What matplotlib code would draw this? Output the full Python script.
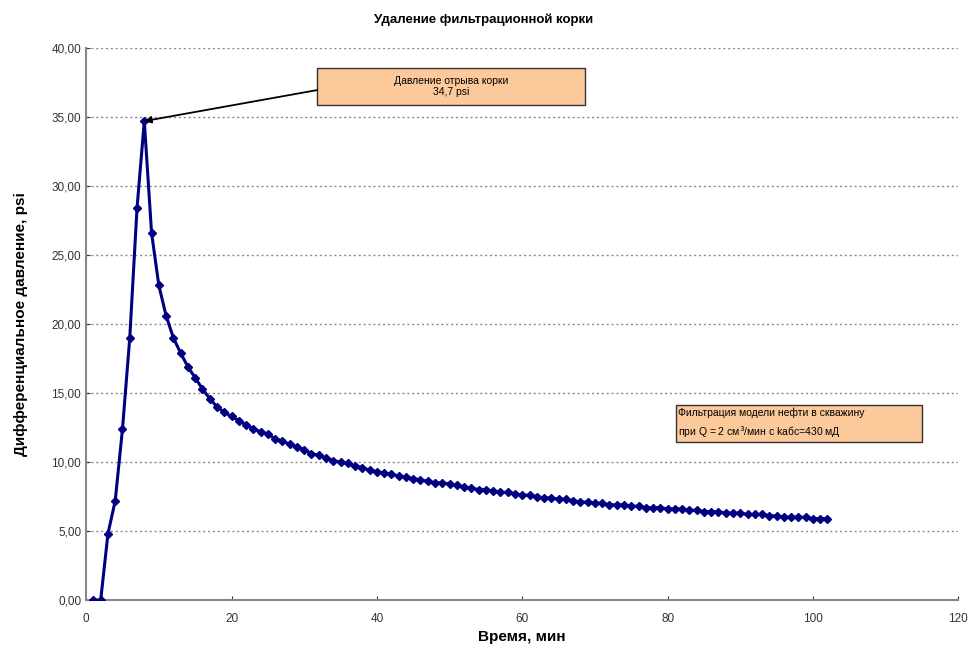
import numpy as np
import matplotlib.pyplot as plt
from matplotlib.patches import Rectangle
from matplotlib.ticker import FuncFormatter

plt.rcParams["font.family"] = ["Liberation Sans", "DejaVu Sans"]

time_min = list(range(1, 103))
pressure_psi = [
    0.0, 0.0, 4.8, 7.2, 12.4, 19.0, 28.4, 34.7, 26.6, 22.8,
    20.6, 19.0, 17.9, 16.9, 16.1, 15.3, 14.6, 14.0, 13.6, 13.3,
    13.0, 12.7, 12.4, 12.2, 12.0, 11.7, 11.5, 11.3, 11.1, 10.9,
    10.6, 10.5, 10.3, 10.1, 10.0, 9.9, 9.7, 9.6, 9.4, 9.3,
    9.2, 9.1, 9.0, 8.9, 8.8, 8.7, 8.6, 8.5, 8.5, 8.4,
    8.3, 8.2, 8.1, 8.0, 8.0, 7.9, 7.8, 7.8, 7.7, 7.6,
    7.6, 7.5, 7.4, 7.4, 7.3, 7.3, 7.2, 7.1, 7.1, 7.0,
    7.0, 6.9, 6.9, 6.9, 6.8, 6.8, 6.7, 6.7, 6.7, 6.6,
    6.6, 6.6, 6.5, 6.5, 6.4, 6.4, 6.4, 6.3, 6.3, 6.3,
    6.2, 6.2, 6.2, 6.1, 6.1, 6.0, 6.0, 6.0, 6.0, 5.9,
    5.9, 5.9,
]
x_ticks = [0, 20, 40, 60, 80, 100, 120]
y_ticks = [0, 5, 10, 15, 20, 25, 30, 35, 40]

peak_idx = int(np.argmax(pressure_psi))

fig = plt.figure(figsize=(9.68, 6.48), dpi=100)
ax = fig.add_axes([0.089, 0.074, 0.901, 0.852])

ax.plot(time_min, pressure_psi, color="#000080", lw=2.2, marker="D", ms=3.8,
        mec="#000080", mfc="#000080", zorder=3)

ax.set_xlim(0, 120)
ax.set_ylim(0, 40)
ax.set_xticks(x_ticks)
ax.set_yticks(y_ticks)
ax.yaxis.set_major_formatter(FuncFormatter(lambda v, p: f"{v:.2f}".replace(".", ",")))
ax.tick_params(labelsize=8.5, colors="#333333", length=3, direction="in")
ax.tick_params(axis="x", pad=9)
ax.grid(axis="y", linestyle=(0, (1.5, 2)), color="#8a8a8a", lw=1)
for s in ["top", "right"]:
    ax.spines[s].set_visible(False)
for s in ["left", "bottom"]:
    ax.spines[s].set_color("#888888")
    ax.spines[s].set_linewidth(1.5)

ax.set_xlabel("Время, мин", fontsize=11, fontweight="bold", labelpad=4)
ax.set_ylabel("Дифференциальное давление, psi", fontsize=11, fontweight="bold", labelpad=17)
fig.text(0.5, 0.969, "Удаление фильтрационной корки", ha="center", va="center",
         fontsize=9.5, fontweight="bold")

box_fc = "#FBC99A"
# callout box for the peak
ax.add_patch(Rectangle((31.8, 35.9), 36.9, 2.65, fc=box_fc, ec="#333333", lw=1,
                       clip_on=False, zorder=4))
ax.text(50.25, 37.22, "Давление отрыва корки\n34,7 psi", fontsize=7.5, ha="center",
        va="center", zorder=5)
ax.annotate("", xy=(time_min[peak_idx], pressure_psi[peak_idx]), xytext=(31.8, 36.95),
            arrowprops=dict(arrowstyle="-|>", color="black", lw=1.3,
                            shrinkA=0, shrinkB=0), zorder=5)

# conditions box
ax.add_patch(Rectangle((81.1, 11.45), 33.9, 2.65, fc=box_fc, ec="#333333", lw=1,
                       clip_on=False, zorder=4))
ax.text(81.5, 12.77, "Фильтрация модели нефти в скважину\nпри Q = 2 см$^3$/мин с kабс=430 мД",
        fontsize=7.5, ha="left", va="center", linespacing=1.6, zorder=5)

fig.savefig("out.png", dpi=100)
